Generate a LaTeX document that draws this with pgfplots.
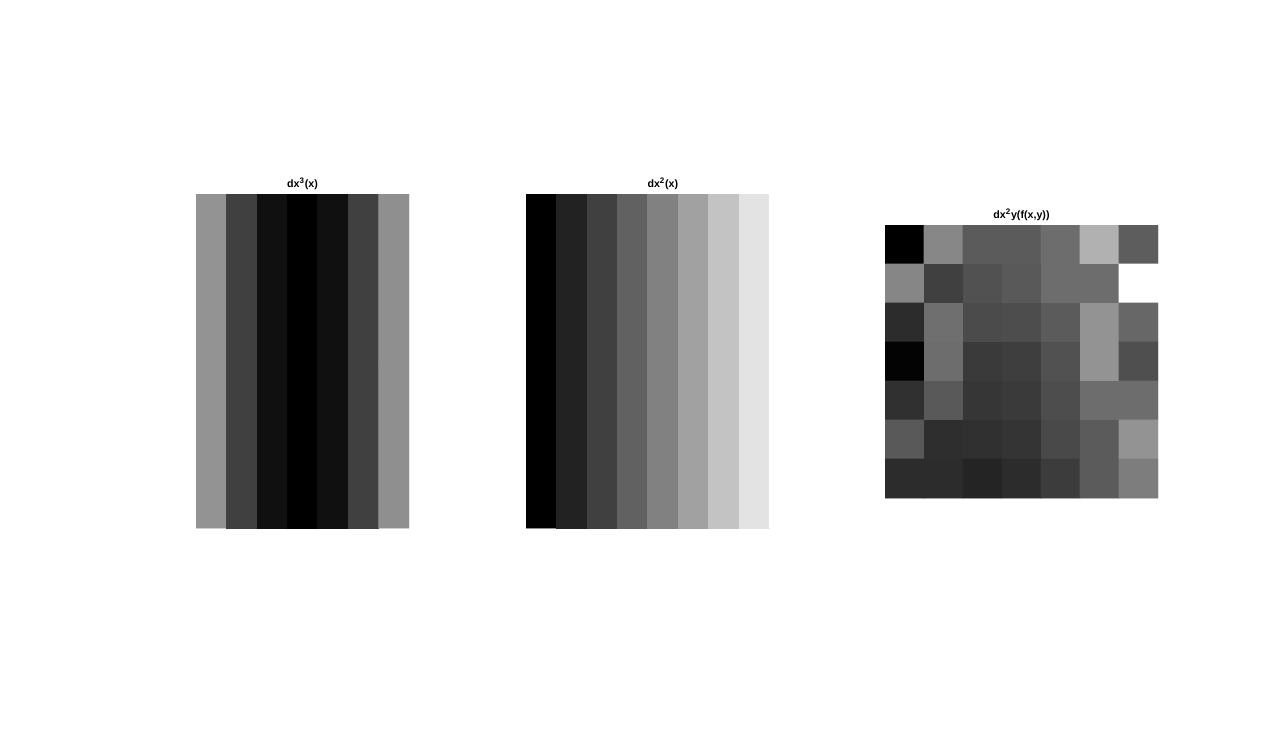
\documentclass[border=0pt]{standalone}
\usepackage{fontspec}
\setmainfont{Liberation Sans}
\usepackage{pgfplots}
\pgfplotsset{compat=1.18}
\pgfplotstableread{
x y c
1 1 146
2 1 64
3 1 16
4 1 0
5 1 16
6 1 64
7 1 142

1 2 146
2 2 64
3 2 16
4 2 0
5 2 16
6 2 64
7 2 142
}\dataA
\pgfplotstableread{
x y c
1 1 0
2 1 34
3 1 64
4 1 96
5 1 128
6 1 160
7 1 194
8 1 225
9 1 255

1 2 0
2 2 34
3 2 64
4 2 96
5 2 128
6 2 160
7 2 194
8 2 225
9 2 255
}\dataB
\pgfplotstableread{
x y c
1 1 0
2 1 134
3 1 90
4 1 90
5 1 108
6 1 176
7 1 92

1 2 133
2 2 64
3 2 80
4 2 88
5 2 108
6 2 108
7 2 255

1 3 44
2 3 110
3 3 74
4 3 76
5 3 90
6 3 146
7 3 102

1 4 3
2 4 108
3 4 58
4 4 62
5 4 80
6 4 146
7 4 78

1 5 48
2 5 88
3 5 54
4 5 58
5 5 76
6 5 108
7 5 108

1 6 88
2 6 46
3 6 48
4 6 52
5 6 72
6 6 90
7 6 146

1 7 44
2 7 44
3 7 36
4 7 44
5 7 60
6 7 90
7 7 124
}\dataC
\pgfplotsset{
  panel/.style={
    scale only axis, hide axis, enlargelimits=false, anchor=north west,
    colormap/blackwhite, point meta min=0, point meta max=255,
    y dir=reverse,
    title style={at={(0.5,1)}, anchor=south, inner sep=0pt, yshift=-2.8pt, font=\fontsize{8}{9}\selectfont\bfseries},
  }
}
\begin{document}
\begin{tikzpicture}
\path[use as bounding box] (0,0) rectangle (960pt,-561.75pt);
\begin{axis}[panel, at={(147pt,-145.5pt)}, width=159.75pt, height=250.5pt,
  xmin=0.5, xmax=7.5, ymin=0.5, ymax=2.5, title={dx\textsuperscript{3}(x)}]
\addplot[matrix plot*, mesh/cols=7, point meta=explicit] table[meta=c] {\dataA};
\end{axis}
\begin{axis}[panel, at={(394.5pt,-145.5pt)}, width=205.2pt, height=250.5pt,
  xmin=0.5, xmax=9.5, ymin=0.5, ymax=2.5, title={dx\textsuperscript{2}(x)}]
\addplot[matrix plot*, mesh/cols=9, point meta=explicit] table[meta=c] {\dataB};
\end{axis}
\begin{axis}[panel, at={(663.75pt,-168.75pt)}, width=204.75pt, height=204.75pt,
  xmin=0.5, xmax=7.5, ymin=0.5, ymax=7.5, title={dx\textsuperscript{2}y(f(x,y))}]
\addplot[matrix plot*, mesh/cols=7, point meta=explicit] table[meta=c] {\dataC};
\end{axis}
\end{tikzpicture}
\end{document}
